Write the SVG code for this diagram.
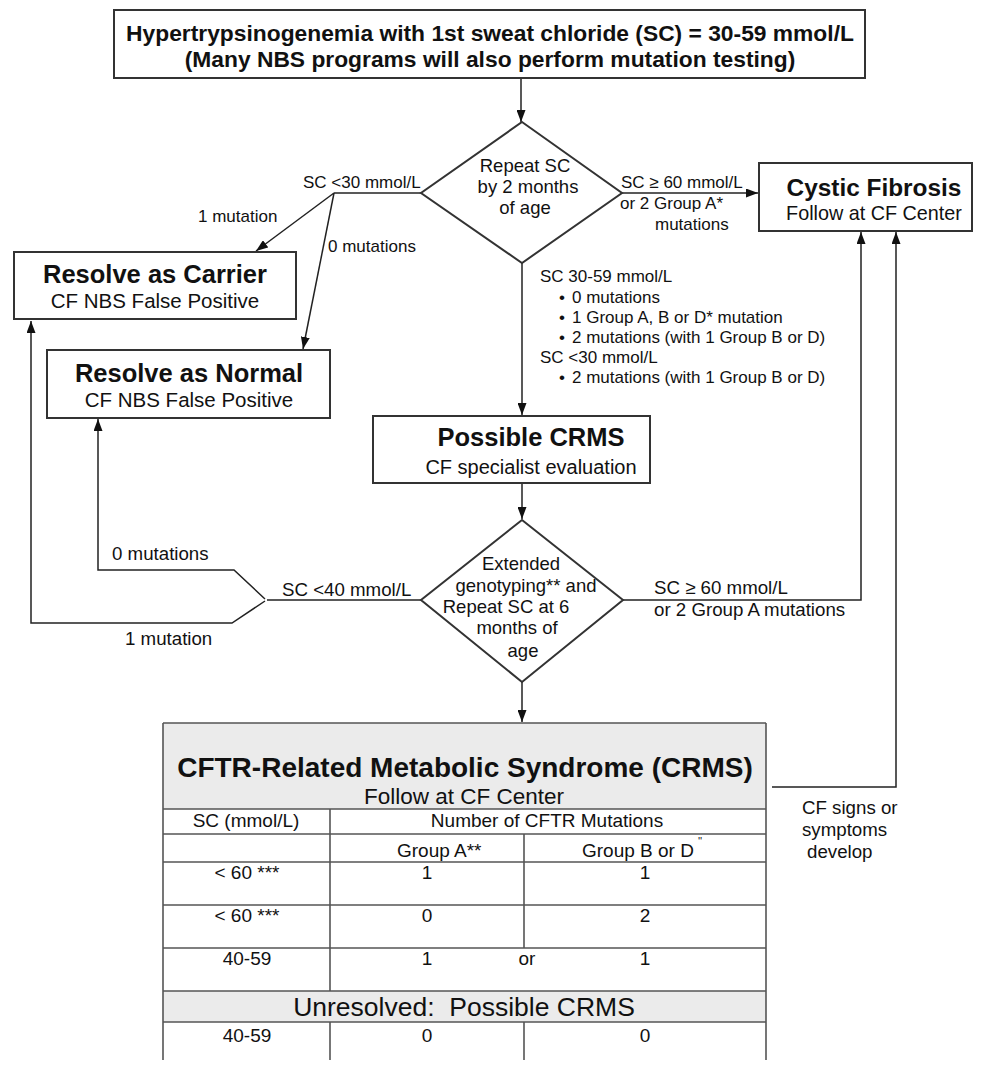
<svg xmlns="http://www.w3.org/2000/svg" width="986" height="1066" viewBox="0 0 986 1066">
<defs>
<marker id="ah" viewBox="0 0 12 9" refX="12" refY="4.5" markerWidth="12" markerHeight="9" markerUnits="userSpaceOnUse" orient="auto">
<path d="M0,0 L12,4.5 L0,9 z" fill="#111"/>
</marker>
<style>
text{font-family:"Liberation Sans",Arial,sans-serif;fill:#111}
.box{fill:#fff;stroke:#333;stroke-width:2}
.con{fill:none;stroke:#222;stroke-width:1.5}
.arr{marker-end:url(#ah)}
.b{font-weight:bold}
.m{text-anchor:middle}
.t{stroke:#555;stroke-width:1.6;fill:none}
.sh{fill:#ebebeb}
.l17{font-size:17px}
.l19{font-size:18.7px}
.d{font-size:18.5px;text-anchor:middle}
</style>
</defs>

<g id="connectors">
<path class="con arr" d="M521,78 L521,122"/>
<path class="con" d="M421,193 L334,193"/>
<path class="con arr" d="M334,193 L256,251"/>
<path class="con arr" d="M334,193 L303,349"/>
<path class="con arr" d="M622,193 L758,193"/>
<path class="con arr" d="M522,263 L522,415"/>
<path class="con arr" d="M522,483 L522,519"/>
<path class="con arr" d="M522,682 L522,722"/>
<path class="con" d="M421,600 L267,600"/>
<path class="con arr" d="M265,599 L234,570 L98,570 L98,419"/>
<path class="con arr" d="M265,601 L232,623 L31,623 L31,321"/>
<path class="con arr" d="M623,600 L861,600 L861,232"/>
<path class="con arr" d="M772,787 L896,787 L896,232"/>
</g>

<g id="start">
<rect class="box" x="114" y="10" width="751" height="68"/>
<text class="b m" x="490" y="41" font-size="22.8">Hypertrypsinogenemia with 1st sweat chloride (SC) = 30-59 mmol/L</text>
<text class="b m" x="490" y="67" font-size="22.8">(Many NBS programs will also perform mutation testing)</text>
</g>

<g id="repeat-sc">
<polygon class="box" points="522,122 622,193 522,263 421,193"/>
<text class="d" x="525" y="172">Repeat SC</text>
<text class="d" x="528" y="193">by 2 months</text>
<text class="d" x="525" y="214">of age</text>
</g>

<g id="carrier">
<rect class="box" x="14" y="252" width="282" height="67"/>
<text class="b m" x="155" y="283" font-size="25.5">Resolve as Carrier</text>
<text class="m" x="155" y="308" font-size="20.5">CF NBS False Positive</text>
</g>

<g id="normal">
<rect class="box" x="47" y="350" width="283" height="68"/>
<text class="b m" x="189" y="382" font-size="25.5">Resolve as Normal</text>
<text class="m" x="189" y="407" font-size="20.5">CF NBS False Positive</text>
</g>

<g id="cystic-fibrosis">
<rect class="box" x="759" y="163" width="213" height="68"/>
<text class="b m" x="874" y="196" font-size="24.4">Cystic Fibrosis</text>
<text class="m" x="874" y="220" font-size="19.8">Follow at CF Center</text>
</g>

<g id="possible-crms">
<rect class="box" x="373" y="416" width="277" height="67"/>
<text class="b m" x="531" y="446" font-size="25.5">Possible CRMS</text>
<text class="m" x="531" y="474" font-size="20">CF specialist evaluation</text>
</g>

<g id="extended">
<polygon class="box" points="522,520 623,600 522,682 421,600"/>
<text class="d" x="521" y="570">Extended</text>
<text class="d" x="526" y="592">genotyping** and</text>
<text class="d" x="506" y="613">Repeat SC at 6</text>
<text class="d" x="517" y="634">months of</text>
<text class="d" x="523" y="657">age</text>
</g>

<g id="labels">
<text class="l17" x="303" y="188">SC &lt;30 mmol/L</text>
<text class="l17" x="198" y="222">1 mutation</text>
<text class="l17" x="328" y="252">0 mutations</text>
<text class="l17" x="621" y="188">SC ≥ 60 mmol/L</text>
<text class="l17" x="620" y="209">or 2 Group A*</text>
<text class="l17" x="655" y="230">mutations</text>
<text class="l17" x="540" y="282">SC 30-59 mmol/L</text>
<text class="l17 m" x="562" y="303">•</text><text class="l17" x="572" y="303">0 mutations</text>
<text class="l17 m" x="562" y="323">•</text><text class="l17" x="572" y="323">1 Group A, B or D* mutation</text>
<text class="l17 m" x="562" y="343">•</text><text class="l17" x="572" y="343">2 mutations (with 1 Group B or D)</text>
<text class="l17" x="540" y="363">SC &lt;30 mmol/L</text>
<text class="l17 m" x="562" y="383">•</text><text class="l17" x="572" y="383">2 mutations (with 1 Group B or D)</text>
<text class="l19" x="112" y="560">0 mutations</text>
<text class="l19" x="282" y="596">SC &lt;40 mmol/L</text>
<text class="l19" x="125" y="645">1 mutation</text>
<text class="l19" x="654" y="594">SC ≥ 60 mmol/L</text>
<text class="l19" x="654" y="616">or 2 Group A mutations</text>
<text class="l19" x="802" y="814">CF signs or</text>
<text class="l19" x="802" y="836">symptoms</text>
<text class="l19" x="807" y="858">develop</text>
</g>

<g id="crms-table">
<rect class="sh" x="163" y="723" width="603" height="86"/>
<rect class="sh" x="163" y="991" width="603" height="31"/>
<path class="t" d="M163,723 L766,723 M163,723 L163,1060 M766,723 L766,1060 M163,809 L766,809 M163,834 L766,834 M163,862 L766,862 M163,905 L766,905 M163,948 L766,948 M163,991 L766,991 M163,1022 L766,1022 M330,809 L330,991 M330,1022 L330,1060 M524,834 L524,948 M524,1022 L524,1060"/>
<text class="b m" x="465" y="777" font-size="28">CFTR-Related Metabolic Syndrome (CRMS)</text>
<text class="m" x="464" y="804" font-size="22.5">Follow at CF Center</text>
<text class="m" x="246" y="827" font-size="19">SC (mmol/L)</text>
<text class="m" x="547" y="827" font-size="19">Number of CFTR Mutations</text>
<text x="397" y="857" font-size="19">Group A**</text>
<text x="582" y="857" font-size="19">Group B or D</text>
<text x="698" y="845" font-size="11" fill="#555">''</text>
<text class="m" x="247" y="879" font-size="19">&lt; 60 ***</text>
<text class="m" x="427" y="879" font-size="19">1</text>
<text class="m" x="645" y="879" font-size="19">1</text>
<text class="m" x="247" y="922" font-size="19">&lt; 60 ***</text>
<text class="m" x="427" y="922" font-size="19">0</text>
<text class="m" x="645" y="922" font-size="19">2</text>
<text class="m" x="247" y="965" font-size="19">40-59</text>
<text class="m" x="427" y="965" font-size="19">1</text>
<text class="m" x="527" y="965" font-size="19">or</text>
<text class="m" x="645" y="965" font-size="19">1</text>
<text class="m" x="464" y="1016" font-size="26.5">Unresolved:&#160; Possible CRMS</text>
<text class="m" x="247" y="1042" font-size="19">40-59</text>
<text class="m" x="427" y="1042" font-size="19">0</text>
<text class="m" x="645" y="1042" font-size="19">0</text>
</g>
</svg>
